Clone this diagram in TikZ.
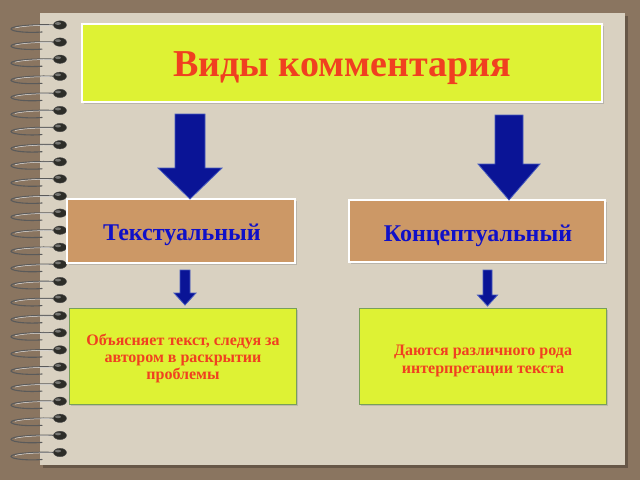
\documentclass[tikz,border=0pt]{standalone}
\usepackage{fontspec}
\setmainfont{Liberation Serif}
\usetikzlibrary{shadows}
\definecolor{bgbrown}{RGB}{138,117,96}
\definecolor{paper}{RGB}{217,209,193}
\definecolor{lime}{RGB}{222,242,52}
\definecolor{limeedge}{RGB}{120,160,90}
\definecolor{tan}{RGB}{204,152,102}
\definecolor{titlered}{RGB}{240,64,32}
\definecolor{txtblue}{RGB}{16,16,200}
\definecolor{arrblue}{RGB}{10,20,150}
\definecolor{arredge}{RGB}{70,90,190}
\definecolor{wire}{RGB}{90,90,90}
\definecolor{bead}{RGB}{45,45,40}
\tikzset{
  titlebox/.style={draw=white, line width=2.5pt, fill=lime, drop shadow={shadow xshift=1.5pt, shadow yshift=-1.5pt, opacity=0.35}},
  tanbox/.style={draw=white, line width=2.5pt, fill=tan, drop shadow={shadow xshift=1.5pt, shadow yshift=-1.5pt, opacity=0.35}},
  limebox/.style={draw=limeedge, line width=1pt, fill=lime, drop shadow={shadow xshift=1.5pt, shadow yshift=-1.5pt, opacity=0.3}},
  blockarr/.style={fill=arrblue, draw=arredge, line width=0.8pt, line join=miter},
  ringwire/.style={draw=wire, line width=1.1pt, line cap=round},
  ringlight/.style={draw=white!75!gray, line width=0.5pt, line cap=round},
  beadstyle/.style={fill=bead, draw=black!70, line width=0.4pt}
}
% #1 center x, #2 top, #3 head start, #4 tip, #5 shaft half width, #6 head half width
\newcommand\myblockarrow[6]{%
  \draw[blockarr] (#1-#5,#2) -- (#1+#5,#2) -- (#1+#5,#3) -- (#1+#6,#3) -- (#1,#4)
    -- (#1-#6,#3) -- (#1-#5,#3) -- cycle;}
\begin{document}
\begin{tikzpicture}[x=1pt,y=-1pt]
\useasboundingbox (0,0) rectangle (640,480);
\fill[bgbrown] (0,0) rectangle (640,480);
% page
\fill[black, opacity=0.25] (43,16) rectangle (628,468);
\fill[paper] (40,13) rectangle (625,465);
% spiral rings
\foreach \i in {0,...,25}{
  \pgfmathsetmacro{\yy}{25+\i*17.1}
  \draw[ringwire] (55,\yy) .. controls (35,\yy-1) and (10,\yy+1) .. (11,\yy+4)
     .. controls (12,\yy+7) and (30,\yy+8) .. (42,\yy+7);
  \draw[ringlight] (52,\yy+0.5) .. controls (35,\yy) and (20,\yy+1.5) .. (15,\yy+3);
  \fill[beadstyle] (60,\yy) ellipse [x radius=6.5, y radius=4.2];
  \fill[white, opacity=0.35] (58,\yy-1.5) ellipse [x radius=3, y radius=1.4];
}
% boxes
\node[titlebox, minimum width=520pt, minimum height=78pt, inner sep=0pt] (title) at (342,63) {};
\node[font=\bfseries\fontsize{38}{40}\selectfont, text=titlered] (titletext) at (342,68) {Виды комментария};

\node[tanbox, minimum width=228pt, minimum height=64pt, inner sep=0pt] (ta) at (181,231) {};
\node[font=\bfseries\fontsize{24}{26}\selectfont, text=txtblue] (tatext) at (182,235) {Текстуальный};
\node[tanbox, minimum width=256pt, minimum height=62pt, inner sep=0pt] (tb) at (477,231) {};
\node[font=\bfseries\fontsize{24}{26}\selectfont, text=txtblue] (tbtext) at (478,236) {Концептуальный};

\node[limebox, minimum width=227pt, minimum height=96pt, inner sep=0pt] (da) at (182.5,356) {};
\node[font=\bfseries\fontsize{16}{17}\selectfont, text=titlered, align=center] (datext) at (183,358)
  {Объясняет текст, следуя за\\автором в раскрытии\\проблемы};
\node[limebox, minimum width=247pt, minimum height=96pt, inner sep=0pt] (db) at (482.5,356) {};
\node[font=\bfseries\fontsize{16}{18}\selectfont, text=titlered, align=center] (dbtext) at (483,361)
  {Даются различного рода\\интерпретации текста};

% arrows
\myblockarrow{190}{114}{168}{199}{15}{32}
\myblockarrow{509}{115}{164}{200}{14}{31}
\myblockarrow{185}{270}{293}{305}{5}{11}
\myblockarrow{487.5}{270}{295}{306}{4.5}{10}
\end{tikzpicture}
\end{document}
